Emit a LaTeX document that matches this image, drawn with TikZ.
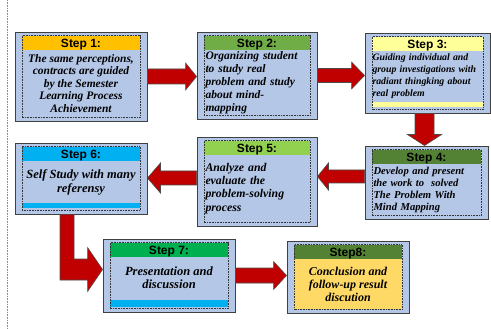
\documentclass[tikz,border=0pt]{standalone}
\usepackage{fontspec}
\setmainfont{Liberation Serif}
\newfontfamily\headfont{Liberation Sans}
\usepackage{tikz}
\usetikzlibrary{calc}
\definecolor{boxblue}{HTML}{B4C7E7}
\definecolor{arrowred}{HTML}{C00000}
\definecolor{headA}{HTML}{FFC000}
\definecolor{headB}{HTML}{70AD47}
\definecolor{headC}{HTML}{FFFF99}
\definecolor{headD}{HTML}{548235}
\definecolor{headE}{HTML}{92D050}
\definecolor{headF}{HTML}{00B0F0}
\definecolor{headG}{HTML}{00B050}
\definecolor{bodygold}{HTML}{FFD966}
\newcommand{\arrowR}[5]{\draw[blockarrow] let \p1=(#1), \p2=(#2) in
  (\x1,\y1+#3pt) -- (\x2-#5pt,\y1+#3pt) -- (\x2-#5pt,\y1+#4pt) -- (\x2,\y1)
  -- (\x2-#5pt,\y1-#4pt) -- (\x2-#5pt,\y1-#3pt) -- (\x1,\y1-#3pt) -- cycle;}
\newcommand{\arrowL}[5]{\draw[blockarrow] let \p1=(#1), \p2=(#2) in
  (\x1,\y1+#3pt) -- (\x2+#5pt,\y1+#3pt) -- (\x2+#5pt,\y1+#4pt) -- (\x2,\y1)
  -- (\x2+#5pt,\y1-#4pt) -- (\x2+#5pt,\y1-#3pt) -- (\x1,\y1-#3pt) -- cycle;}
\newcommand{\arrowD}[5]{\draw[blockarrow] let \p1=(#1), \p2=(#2) in
  (\x1-#3pt,\y1) -- (\x1-#3pt,\y2+#5pt) -- (\x1-#4pt,\y2+#5pt) -- (\x1,\y2)
  -- (\x1+#4pt,\y2+#5pt) -- (\x1+#3pt,\y2+#5pt) -- (\x1+#3pt,\y1) -- cycle;}

\begin{document}
\begin{tikzpicture}[x=1pt,y=1pt,
  stepbox/.style={draw=black!75,line width=.9pt,fill=boxblue,inner sep=0pt},
  frame/.style={draw=black!80,densely dotted,line width=.6pt},
  head/.style={font=\headfont\bfseries\fontsize{12}{12}\selectfont,inner sep=0pt,anchor=base},
  body/.style 2 args={font=\bfseries\itshape\fontsize{#1}{#2}\selectfont,inner sep=1pt},
  blockarrow/.style={fill=arrowred,draw=black!70,line width=.6pt,line join=miter}]
 \useasboundingbox (0,0) rectangle (491,-329);
 \draw[black!45,densely dotted,line width=.6pt] (7.5,0) -- (7.5,-329);
 \foreach \n/\x/\y/\w/\h/\hc/\t in {1/81/-76.5/132/89/headA/{Step 1:},
   2/257/-75.5/120/87/headB/{Step 2:}, 3/427.5/-73/125/80/headC/{Step 3:},
   4/426.5/-182.5/123/73/headD/{Step 4:}, 5/257/-181.5/120/89/headE/{Step 5:},
   6/81/-178.5/132/71/headF/{Step 6:}, 7/169/-275.5/132/73/headG/{Step 7:},
   8/348/-277/122/72/headD/{Step8:}}{
   \node[stepbox,minimum width=\w*1pt,minimum height=\h*1pt] (s\n) at (\x,\y) {};
   \fill[\hc] ($(s\n.north west)+(7.5,-4)$) rectangle ($(s\n.north east)+(-7.5,-18)$);
   \node[head] (h\n) at ($(s\n.north)+(0,-15.5)$) {\t};
 }
 \fill[headC] ($(s3.south west)+(7.5,6)$) rectangle ($(s3.south east)+(-7.5,11)$);
 \fill[headF] ($(s6.south west)+(7.5,6)$) rectangle ($(s6.south east)+(-7.5,11)$);
 \fill[headF] ($(s7.south west)+(7.5,5)$) rectangle ($(s7.south east)+(-7.5,12)$);
 \fill[bodygold] ($(s8.north west)+(7.5,-18)$) rectangle ($(s8.south east)+(-7.5,4)$);
 \foreach \n in {1,...,8}
   \draw[frame] ($(s\n.north west)+(7.5,-4)$) rectangle ($(s\n.south east)+(-7.5,4)$);
 \node[body={11.5}{12.5},align=center] (t1) at ($(s1.center)+(0,-7)$)
   {The same perceptions,\\contracts are guided\\by the Semester\\Learning Process\\Achievement};
 \node[body={11.5}{13},align=left,text width=103pt] (t2) at ($(s2.center)+(0,-7)$)
   {Organizing student\\to study real\\problem and study\\about mind-\\mapping};
 \node[body={9.8}{12},align=left,text width=110pt] (t3) at ($(s3.center)+(0,-3.5)$)
   {Guiding individual and\\group investigations with\\radiant thingking about\\real problem};
 \node[body={10.6}{12},align=left,text width=106pt] (t4) at ($(s4.center)+(0,-7)$)
   {Develop and present\\the work to\ \ solved\\The Problem With\\Mind Mapping};
 \node[body={11.8}{13.3},align=left,text width=103pt] (t5) at ($(s5.center)+(0,-7)$)
   {Analyze and\\evaluate the\\problem-solving\\process};
 \node[body={12.5}{14},align=center] (t6) at ($(s6.center)+(0,-3.5)$)
   {Self Study with many\\referensy};
 \node[body={12.5}{13},align=center] (t7) at ($(s7.center)+(0,-2.5)$)
   {Presentation and\\discussion};
 \node[body={12}{13},align=center] (t8) at ($(s8.center)+(0,-7)$)
   {Conclusion and\\follow-up result\\discution};
 \arrowR{s1.east}{s2.west}{7.5}{13.5}{11}
 \arrowR{s2.east}{s3.west}{7}{13.5}{13}
 \arrowD{$(s3.south)+(-3,0)$}{s4.north}{9.5}{17}{11}
 \arrowL{$(s4.west)+(0,6)$}{s5.east}{6.5}{13.5}{11}
 \arrowL{$(s5.west)+(0,3.5)$}{s6.east}{7}{15}{13}
 \draw[blockarrow] let \p1=($(s6.south)+(-14,0)$), \p2=($(s7.west)+(0,6)$) in
   (\x1-7pt,\y1) -- (\x1-7pt,\y2-10.5pt) -- (\x2-15pt,\y2-10.5pt) -- (\x2-15pt,\y2-22pt)
   -- (\x2,\y2) -- (\x2-15pt,\y2+22pt) -- (\x2-15pt,\y2+10.5pt) -- (\x1+7pt,\y2+10.5pt)
   -- (\x1+7pt,\y1) -- cycle;
 \arrowR{s7.east}{s8.west}{7.5}{14}{13}
\end{tikzpicture}
\end{document}
